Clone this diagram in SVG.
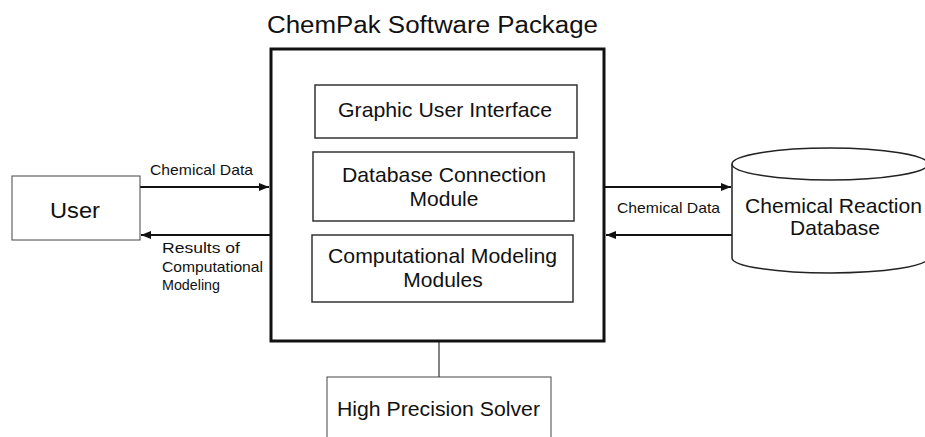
<svg xmlns="http://www.w3.org/2000/svg" width="925" height="437" viewBox="0 0 925 437">
<style>
text{font-family:"Liberation Sans",Arial,sans-serif;fill:#111}
.big{font-size:21px}
.small{font-size:15px}
.mod{fill:#fff;stroke:#333;stroke-width:1.5}
.thin{fill:#fff;stroke:#444;stroke-width:1}
.arr{stroke:#111;stroke-width:2;fill:none}
</style>
<defs>
<marker id="ah" viewBox="0 0 10 8" refX="10" refY="4" markerWidth="10" markerHeight="8" markerUnits="userSpaceOnUse" orient="auto">
<path d="M0,0 L10,4 L0,8 Z" fill="#111"/>
</marker>
</defs>
<rect width="925" height="437" fill="#fff"/>

<g id="connectors">
<line class="arr" x1="140" y1="187" x2="269" y2="187" marker-end="url(#ah)"/>
<line class="arr" x1="270" y1="235" x2="141" y2="235" marker-end="url(#ah)"/>
<line class="arr" x1="605" y1="187" x2="731" y2="187" marker-end="url(#ah)"/>
<line class="arr" x1="732" y1="235" x2="606" y2="235" marker-end="url(#ah)"/>
<line x1="439" y1="342" x2="439" y2="377" stroke="#333" stroke-width="1.2"/>
<text class="small" x="150" y="175" textLength="103" lengthAdjust="spacingAndGlyphs">Chemical Data</text>
<text class="small" x="162" y="253" textLength="78" lengthAdjust="spacingAndGlyphs">Results of</text>
<text class="small" x="162" y="272" textLength="101" lengthAdjust="spacingAndGlyphs">Computational</text>
<text class="small" x="162" y="290" textLength="58" lengthAdjust="spacingAndGlyphs">Modeling</text>
<text class="small" x="617" y="213" textLength="103" lengthAdjust="spacingAndGlyphs">Chemical Data</text>
</g>

<g id="chempak">
<text x="267" y="32.5" style="font-size:23px" textLength="331" lengthAdjust="spacingAndGlyphs">ChemPak Software Package</text>
<rect x="271" y="49" width="333" height="292" fill="#fff" stroke="#111" stroke-width="3"/>
</g>

<g id="gui">
<rect class="mod" x="315" y="85" width="262" height="53"/>
<text class="big" x="338" y="117" textLength="214" lengthAdjust="spacingAndGlyphs">Graphic User Interface</text>
</g>

<g id="dbconn">
<rect class="mod" x="313" y="152" width="261" height="69"/>
<text class="big" x="342" y="182" textLength="204" lengthAdjust="spacingAndGlyphs">Database Connection</text>
<text class="big" x="444" y="206" text-anchor="middle">Module</text>
</g>

<g id="compmod">
<rect class="mod" x="312" y="235" width="261" height="67"/>
<text class="big" x="328" y="263" textLength="229" lengthAdjust="spacingAndGlyphs">Computational Modeling</text>
<text class="big" x="443" y="287" text-anchor="middle">Modules</text>
</g>

<g id="user">
<rect class="thin" x="12" y="176" width="128" height="64"/>
<text style="font-size:22px" x="50" y="218" textLength="50" lengthAdjust="spacingAndGlyphs">User</text>
</g>

<g id="database">
<path d="M732,164 L732,258 A98,15 0 0 0 928,258 L928,164" fill="#fff" stroke="#222" stroke-width="1.5"/>
<ellipse cx="830" cy="164" rx="98" ry="16" fill="#fff" stroke="#222" stroke-width="1.5"/>
<text class="big" x="745" y="213" textLength="177" lengthAdjust="spacingAndGlyphs">Chemical Reaction</text>
<text class="big" x="835" y="235" text-anchor="middle">Database</text>
</g>

<g id="solver">
<rect class="thin" x="327" y="377" width="224" height="70"/>
<text class="big" x="337" y="416" textLength="203" lengthAdjust="spacingAndGlyphs">High Precision Solver</text>
</g>
</svg>
